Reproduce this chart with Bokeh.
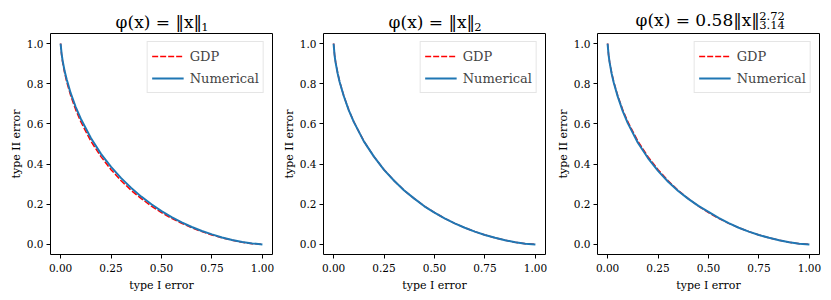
from bokeh.plotting import figure
from bokeh.layouts import row
from bokeh.models import (LinearAxis, FixedTicker, NumeralTickFormatter, Legend, LegendItem,
                          Range1d)
from bokeh.embed import file_html
from bokeh.resources import INLINE

# ---- data ----
type1 = [0, 0.005, 0.01, 0.02, 0.03, 0.05, 0.075, 0.1, 0.15, 0.2, 0.25, 0.3, 0.35, 0.4,
         0.45, 0.5, 0.55, 0.6, 0.65, 0.7, 0.75, 0.8, 0.85, 0.9, 0.95, 1.0]
gdp = [1.0, 0.943, 0.908, 0.854, 0.811, 0.741, 0.670, 0.611, 0.514, 0.437, 0.372, 0.317,
       0.269, 0.228, 0.191, 0.159, 0.130, 0.105, 0.083, 0.064, 0.047, 0.033, 0.021, 0.011,
       0.004, 0.0]
num_l1 = [1.0, 0.950, 0.915, 0.863, 0.822, 0.753, 0.684, 0.626, 0.530, 0.451, 0.386, 0.330,
          0.281, 0.238, 0.200, 0.166, 0.136, 0.110, 0.087, 0.067, 0.050, 0.035, 0.022, 0.012,
          0.005, 0.0]
num_l2 = [1.0, 0.940, 0.905, 0.852, 0.809, 0.740, 0.669, 0.610, 0.513, 0.437, 0.371, 0.317,
          0.269, 0.228, 0.190, 0.158, 0.130, 0.105, 0.083, 0.064, 0.047, 0.033, 0.021, 0.011,
          0.004, 0.0]
num_p = [1.0, 0.942, 0.906, 0.851, 0.807, 0.737, 0.664, 0.604, 0.506, 0.430, 0.366, 0.312,
         0.266, 0.227, 0.192, 0.162, 0.132, 0.106, 0.083, 0.064, 0.047, 0.033, 0.021, 0.011,
         0.004, 0.0]
x_ticks = [0, 0.25, 0.5, 0.75, 1.0]
y_ticks = [0, 0.2, 0.4, 0.6, 0.8, 1.0]

FONT = "DejaVu Serif"
NB = "\u00a0"


def title_axis(p, pos, small, small_standoff, main=None, main_standoff=0):
    """An axis above the frame that carries only title text: its one tick label is the
    small sub/superscript, its axis label the main formula."""
    ax = LinearAxis(ticker=FixedTicker(ticks=[pos]), major_label_overrides={pos: small})
    ax.axis_line_color = None
    ax.major_tick_line_color = None
    ax.minor_tick_line_color = None
    ax.major_tick_out = 0
    ax.major_tick_in = 0
    ax.minor_tick_out = 0
    ax.minor_tick_in = 0
    ax.major_label_text_font = FONT
    ax.major_label_text_font_size = "11.5px"
    ax.major_label_text_color = "black"
    ax.major_label_standoff = small_standoff
    if main is not None:
        ax.axis_label = main
        ax.axis_label_text_font = FONT
        ax.axis_label_text_font_size = "17px"
        ax.axis_label_text_font_style = "normal"
        ax.axis_label_text_color = "black"
        ax.axis_label_standoff = main_standoff
    p.add_layout(ax, "above")
    return ax


def make(numerical, width, left, right):
    p = figure(width=width, height=300, output_backend="svg", toolbar_location=None,
               x_range=Range1d(-0.05, 1.05), y_range=Range1d(-0.05, 1.05),
               min_border_left=left, min_border_right=right,
               min_border_top=33, min_border_bottom=46, title_location=None)
    p.xgrid.visible = False
    p.ygrid.visible = False
    p.outline_line_color = "black"
    p.outline_line_width = 1
    p.background_fill_color = "white"
    p.border_fill_color = "white"
    for ax in (p.xaxis[0], p.yaxis[0]):
        ax.axis_line_color = None
        ax.major_tick_in = 0
        ax.major_tick_out = 4
        ax.minor_tick_out = 0
        ax.minor_tick_in = 0
        ax.major_tick_line_color = "black"
        ax.major_label_text_font = FONT
        ax.major_label_text_font_size = "10.5px"
        ax.major_label_text_color = "black"
        ax.axis_label_text_font = FONT
        ax.axis_label_text_font_size = "11px"
        ax.axis_label_text_font_style = "normal"
        ax.axis_label_text_color = "black"
    p.yaxis.major_label_standoff = 3
    p.yaxis.axis_label_standoff = 1
    p.xaxis.major_label_standoff = 5
    p.xaxis.axis_label_standoff = 4
    p.xaxis.ticker = FixedTicker(ticks=x_ticks)
    p.yaxis.ticker = FixedTicker(ticks=y_ticks)
    p.xaxis.formatter = NumeralTickFormatter(format="0.00")
    p.yaxis.formatter = NumeralTickFormatter(format="0.0")
    p.xaxis.axis_label = "type I error"
    p.yaxis.axis_label = "type II error"

    r1 = p.line(type1, gdp, line_color="red", line_dash="6 2", line_width=1.5)
    r2 = p.line(type1, numerical, line_color="#1f77b4", line_width=2)

    leg = Legend(items=[LegendItem(label="GDP", renderers=[r1]),
                        LegendItem(label="Numerical", renderers=[r2])],
                 location="top_right")
    leg.label_text_font = FONT
    leg.label_text_font_size = "13px"
    leg.border_line_color = "#cccccc"
    leg.border_line_width = 1
    leg.background_fill_alpha = 0.8
    leg.glyph_width = 32
    leg.glyph_height = 20
    leg.label_height = 20
    leg.spacing = 2
    leg.padding = 4
    leg.margin = 8
    leg.label_standoff = 6
    p.add_layout(leg)
    return p


p1 = make(num_l1, width=278, left=50, right=6)
title_axis(p1, 0.715, "1", 3, main="φ(x) = ‖x‖" + NB, main_standoff=-12)

p2 = make(num_l2, width=274, left=45, right=7)
title_axis(p2, 0.715, "2", 3, main="φ(x) = ‖x‖" + NB, main_standoff=-12)

p3 = make(num_p, width=279, left=45, right=12)
title_axis(p3, 0.815, "3.14", 5, main="φ(x) = 0.58‖x‖" + NB * 4, main_standoff=-12)
title_axis(p3, 0.815, "2.72", -13)

layout = row(p1, p2, p3)
open("out.html", "w").write(file_html(layout, INLINE))
